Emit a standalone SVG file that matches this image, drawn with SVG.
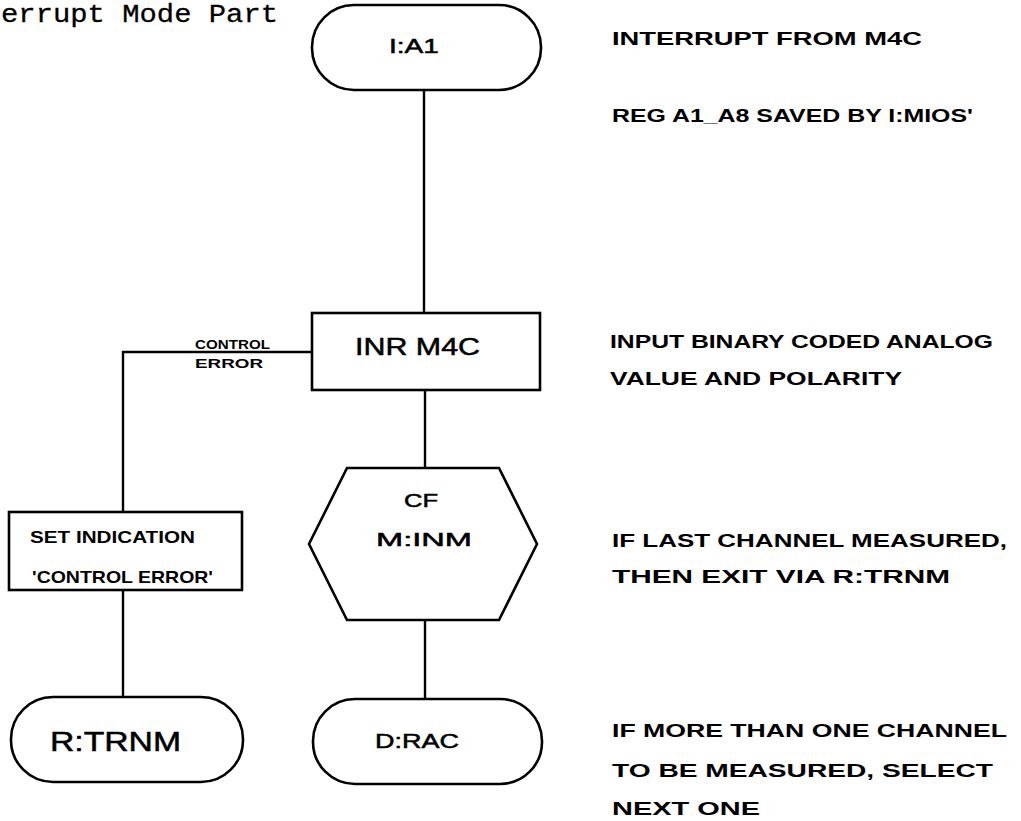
<svg xmlns="http://www.w3.org/2000/svg" width="1021" height="821" viewBox="0 0 1021 821">
<style>
.shape{fill:#fff;stroke:#000;stroke-width:2.6}
.conn line,.conn polyline{stroke:#000;stroke-width:2.4;fill:none}
.hw{font-family:"Liberation Sans",Arial,sans-serif;font-weight:bold;fill:#000}
.nt{font-family:"Liberation Sans",Arial,sans-serif;font-weight:normal;fill:#000;stroke:#000;stroke-width:0.5}
.note{font-size:19px}
.title{font-family:"Liberation Mono","Courier New",monospace;font-size:26px;fill:#000;stroke:#000;stroke-width:0.3}
</style>
<rect width="1021" height="821" fill="#fff"/>
<text class="title" x="1" y="22" textLength="277" lengthAdjust="spacingAndGlyphs">errupt Mode Part</text>
<g class="conn" id="connectors">
<line x1="424" y1="90" x2="424" y2="313"/>
<line x1="425" y1="390" x2="425" y2="468"/>
<line x1="425" y1="620" x2="425" y2="700"/>
<polyline points="312,352 123,352 123,512"/>
<line x1="123" y1="590" x2="123" y2="697"/>
<text class="hw" x="195" y="349" font-size="12" textLength="75" lengthAdjust="spacingAndGlyphs">CONTROL</text>
<text class="hw" x="195" y="368" font-size="12" textLength="68" lengthAdjust="spacingAndGlyphs">ERROR</text>
</g>
<g id="n_ia1">
<rect class="shape" x="312" y="5" width="229" height="85" rx="42" ry="42"/>
<text class="nt" x="414" y="53" font-size="20" text-anchor="middle" textLength="50" lengthAdjust="spacingAndGlyphs">I:A1</text>
</g>
<g id="n_inr">
<rect class="shape" x="312" y="313" width="228" height="77"/>
<text class="nt" x="355" y="355" font-size="24" textLength="125" lengthAdjust="spacingAndGlyphs">INR M4C</text>
</g>
<g id="n_cf">
<polygon class="shape" points="347,468 499,468 537,544 499,620 347,620 309,544"/>
<text class="nt" x="421" y="507" font-size="19" text-anchor="middle" textLength="34" lengthAdjust="spacingAndGlyphs">CF</text>
<text class="nt" x="376" y="546" font-size="19" textLength="96" lengthAdjust="spacingAndGlyphs">M:INM</text>
</g>
<g id="n_set">
<rect class="shape" x="9" y="512" width="233" height="78"/>
<text class="hw" x="30" y="543" font-size="17" textLength="165" lengthAdjust="spacingAndGlyphs">SET INDICATION</text>
<text class="hw" x="32" y="583" font-size="17" textLength="181" lengthAdjust="spacingAndGlyphs">'CONTROL ERROR'</text>
</g>
<g id="n_rtrnm">
<rect class="shape" x="11" y="697" width="232" height="85" rx="42" ry="42"/>
<text class="nt" x="50" y="751" font-size="27" textLength="131" lengthAdjust="spacingAndGlyphs">R:TRNM</text>
</g>
<g id="n_drac">
<rect class="shape" x="313" y="699" width="229" height="85" rx="42" ry="42"/>
<text class="nt" x="375" y="748" font-size="20" textLength="84" lengthAdjust="spacingAndGlyphs">D:RAC</text>
</g>
<g id="notes">
<text class="hw note" x="612" y="45" textLength="310" lengthAdjust="spacingAndGlyphs">INTERRUPT FROM M4C</text>
<text class="hw note" x="612" y="122" textLength="361" lengthAdjust="spacingAndGlyphs">REG A1_A8  SAVED BY I:MIOS'</text>
<text class="hw note" x="610" y="348" textLength="383" lengthAdjust="spacingAndGlyphs">INPUT BINARY CODED  ANALOG</text>
<text class="hw note" x="610" y="385" textLength="292" lengthAdjust="spacingAndGlyphs">VALUE  AND  POLARITY</text>
<text class="hw note" x="612" y="547" textLength="395" lengthAdjust="spacingAndGlyphs">IF LAST CHANNEL MEASURED,</text>
<text class="hw note" x="612" y="583" textLength="338" lengthAdjust="spacingAndGlyphs">THEN EXIT VIA R:TRNM</text>
<text class="hw note" x="612" y="737" textLength="395" lengthAdjust="spacingAndGlyphs">IF MORE THAN ONE  CHANNEL</text>
<text class="hw note" x="612" y="777" textLength="381" lengthAdjust="spacingAndGlyphs">TO BE MEASURED, SELECT</text>
<text class="hw note" x="612" y="815" textLength="148" lengthAdjust="spacingAndGlyphs">NEXT ONE</text>
</g>
</svg>
